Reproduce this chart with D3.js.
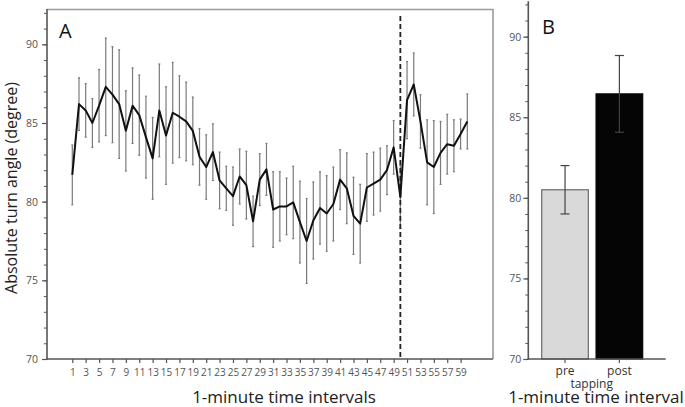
<!DOCTYPE html>
<html><head><meta charset="utf-8">
<script src="https://cdn.jsdelivr.net/npm/d3@7"></script>
<style>body{margin:0;background:#fff} svg{display:block}</style>
</head><body>
<svg id="c" width="685" height="407"></svg>
<script>
// ---- data ----
const minutes = [1,2,3,4,5,6,7,8,9,10,11,12,13,14,15,16,17,18,19,20,21,22,23,24,25,26,27,28,29,30,
  31,32,33,34,35,36,37,38,39,40,41,42,43,44,45,46,47,48,49,50,51,52,53,54,55,56,57,58,59,60];
const meanAngle = [81.7,86.2,85.8,85.0,86.1,87.3,86.8,86.2,84.5,86.1,85.5,84.1,82.75,85.8,84.2,85.65,85.4,85.1,84.5,82.85,
  82.2,83.15,81.35,80.85,80.35,81.6,81.05,78.75,81.4,82.05,79.5,79.7,79.7,79.95,78.7,77.5,78.8,79.6,79.25,79.85,
  81.4,80.85,79.1,78.6,80.9,81.15,81.4,82.0,83.45,80.3,86.45,87.45,85.1,82.5,82.2,83.1,83.65,83.55,84.3,85.1];
const errAngle = [1.9,1.67,1.7,1.55,2.3,3.1,3.05,3.45,2.55,2.4,2.55,2.6,2.6,2.95,3.1,3.2,2.6,2.5,2.15,1.8,
  2.05,1.8,1.8,1.4,1.85,1.75,2.15,1.6,1.65,1.65,2.4,2.2,1.8,2.3,2.6,2.7,2.45,2.3,2.4,2.35,
  1.9,2.25,2.45,2.5,2.15,2.0,2.0,1.55,1.7,2.0,2.45,2.0,1.7,2.7,2.95,2.0,1.9,1.65,0.95,1.75];
const tapMinute = 50;
const xTickLabels = [1,3,5,7,9,11,13,15,17,19,21,23,25,27,29,31,33,35,37,39,41,43,45,47,49,51,53,55,57,59];
const yTickLabels = [70,75,80,85,90];
const yMinorTicks = [70,71,72,73,74,75,76,77,78,79,80,81,82,83,84,85,86,87,88,89,90,91,92];
const barCats = ["pre","post"];
const barMeans = [80.5,86.45];
const barErr = [1.5,2.38];

// ---- drawing ----
const svg = d3.select("#c");
const font = "'Open Sans', sans-serif";
const axisCol = "#555";

// Panel A
const xA = d3.scaleLinear().domain([1,60]).range([72.3,467.3]);
const yA = d3.scaleLinear().domain([70,92.2]).range([359,9.7]);
const gA = svg.append("g");

gA.append("path").attr("d","M47,9.5H493V359").attr("fill","none").attr("stroke","#9a9a9a").attr("stroke-width",1.6);

const minorA = gA.append("g").attr("transform","translate(47,0)")
  .call(d3.axisLeft(yA).tickValues(yMinorTicks).tickSize(3).tickFormat(""));
minorA.select(".domain").remove();
minorA.selectAll("line").attr("stroke",axisCol);

const leftA = gA.append("g").attr("transform","translate(47,0)")
  .call(d3.axisLeft(yA).tickValues(yTickLabels).tickSize(5).tickPadding(4).tickSizeOuter(0));
leftA.select(".domain").remove();
leftA.selectAll("line").attr("stroke",axisCol).attr("stroke-width",1.2);
leftA.selectAll("text").attr("font-family",font).attr("font-size",10.5).attr("fill","#555");
gA.append("line").attr("x1",47).attr("x2",47).attr("y1",9).attr("y2",359.8).attr("stroke",axisCol).attr("stroke-width",1.6);

const botA = gA.append("g").attr("transform","translate(0,359)")
  .call(d3.axisBottom(xA).tickValues(xTickLabels).tickSize(4).tickPadding(6).tickSizeOuter(0));
botA.select(".domain").remove();
botA.selectAll("line").attr("stroke",axisCol).attr("stroke-width",1.2);
botA.selectAll("text").attr("font-family",font).attr("font-size",10).attr("fill","#555");
gA.append("line").attr("x1",46.2).attr("x2",493).attr("y1",359).attr("y2",359).attr("stroke",axisCol).attr("stroke-width",1.6);

const eb = gA.append("g").attr("stroke","#7a7a7a").attr("stroke-width",1.2);
minutes.forEach((m,i)=>{
  const x = xA(m), y1 = yA(meanAngle[i]+errAngle[i]), y2 = yA(meanAngle[i]-errAngle[i]);
  eb.append("line").attr("x1",x).attr("x2",x).attr("y1",y1).attr("y2",y2);
  eb.append("line").attr("x1",x-1).attr("x2",x+1).attr("y1",y1).attr("y2",y1);
  eb.append("line").attr("x1",x-1).attr("x2",x+1).attr("y1",y2).attr("y2",y2);
});

gA.append("line").attr("x1",xA(tapMinute)).attr("x2",xA(tapMinute)).attr("y1",16).attr("y2",359)
  .attr("stroke","#222").attr("stroke-width",1.8).attr("stroke-dasharray","5,3");

gA.append("path").datum(minutes.map((m,i)=>[m,meanAngle[i]]))
  .attr("d",d3.line().x(d=>xA(d[0])).y(d=>yA(d[1])))
  .attr("fill","none").attr("stroke","#111").attr("stroke-width",2).attr("stroke-linejoin","round");

gA.append("text").attr("x",59).attr("y",38).text("A").attr("font-family",font).attr("font-size",20).attr("fill","#111");

gA.append("text").attr("x",284).attr("y",403).attr("text-anchor","middle").text("1-minute time intervals")
  .attr("font-family",font).attr("font-size",17).attr("fill","#222");
gA.append("text").attr("transform","translate(17,188) rotate(-90)").attr("text-anchor","middle")
  .text("Absolute turn angle (degree)").attr("font-family",font).attr("font-size",16).attr("fill","#222");

// Panel B
const xB = d3.scaleBand().domain(barCats).range([541.7,642.7]).paddingInner(0.142).paddingOuter(0);
const yB = d3.scaleLinear().domain([70,92.2]).range([359,1.2]);
const gB = svg.append("g");

const minorB = gB.append("g").attr("transform","translate(528.3,0)")
  .call(d3.axisLeft(yB).tickValues(yMinorTicks).tickSize(3).tickFormat(""));
minorB.select(".domain").remove();
minorB.selectAll("line").attr("stroke",axisCol);
const leftB = gB.append("g").attr("transform","translate(528.3,0)")
  .call(d3.axisLeft(yB).tickValues(yTickLabels).tickSize(5).tickPadding(2).tickSizeOuter(0));
leftB.select(".domain").remove();
leftB.selectAll("line").attr("stroke",axisCol).attr("stroke-width",1.2);
leftB.selectAll("text").attr("font-family",font).attr("font-size",10.5).attr("fill","#555");
gB.append("line").attr("x1",528.3).attr("x2",528.3).attr("y1",1.2).attr("y2",359.8).attr("stroke",axisCol).attr("stroke-width",1.6);

gB.selectAll("rect.bar").data(barCats).join("rect").attr("class","bar")
  .attr("x",d=>xB(d)).attr("width",xB.bandwidth())
  .attr("y",(d,i)=>yB(barMeans[i])).attr("height",(d,i)=>yB(70)-yB(barMeans[i]))
  .attr("fill",(d,i)=>i===0?"#d9d9d9":"#050505").attr("stroke",(d,i)=>i===0?"#6a6a6a":"#050505").attr("stroke-width",1.2);

const ebB = gB.append("g").attr("stroke","#444").attr("stroke-width",1.2);
barCats.forEach((c,i)=>{
  const x = xB(c)+xB.bandwidth()/2, y1 = yB(barMeans[i]+barErr[i]), y2 = yB(barMeans[i]-barErr[i]);
  ebB.append("line").attr("x1",x).attr("x2",x).attr("y1",y1).attr("y2",y2);
  ebB.append("line").attr("x1",x-4.5).attr("x2",x+4.5).attr("y1",y1).attr("y2",y1);
  ebB.append("line").attr("x1",x-4.5).attr("x2",x+4.5).attr("y1",y2).attr("y2",y2);
});

const botB = gB.append("g").attr("transform","translate(0,359)")
  .call(d3.axisBottom(xB).tickSize(4).tickPadding(3).tickSizeOuter(0));
botB.select(".domain").remove();
botB.selectAll("line").attr("stroke",axisCol).attr("stroke-width",1.2);
botB.selectAll("text").attr("font-family",font).attr("font-size",12).attr("fill","#333");
gB.append("line").attr("x1",527.5).attr("x2",665.7).attr("y1",359).attr("y2",359).attr("stroke",axisCol).attr("stroke-width",1.6);

gB.append("text").attr("x",591.7).attr("y",388).attr("text-anchor","middle").text("tapping")
  .attr("font-family",font).attr("font-size",12).attr("fill","#333");
gB.append("text").attr("x",542).attr("y",34).text("B").attr("font-family",font).attr("font-size",20).attr("fill","#111");
gB.append("text").attr("x",596).attr("y",403).attr("text-anchor","middle").text("1-minute time interval")
  .attr("font-family",font).attr("font-size",17).attr("fill","#222");
</script>
</body></html>
